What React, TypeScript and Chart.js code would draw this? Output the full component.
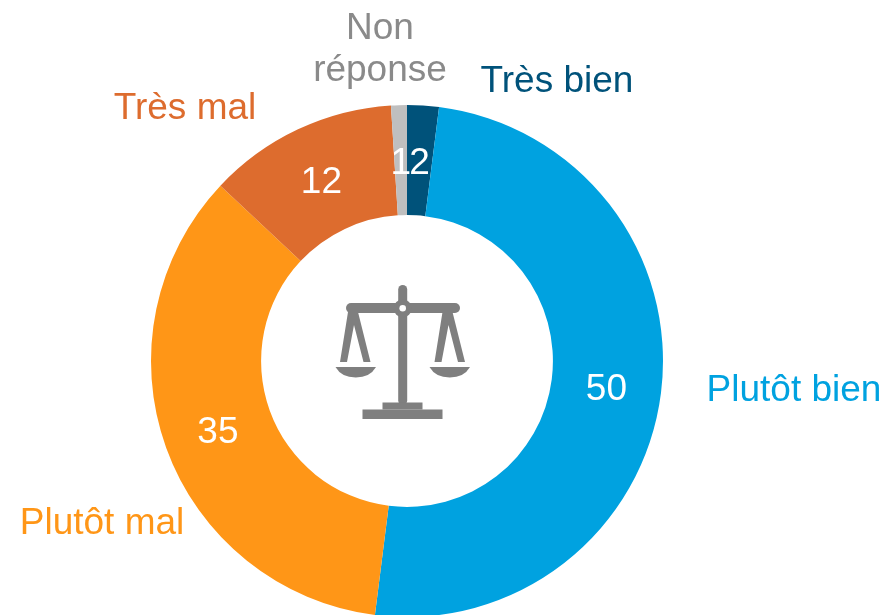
import React, { useEffect, useRef } from "react";
import { Chart, registerables } from "chart.js";

Chart.register(...registerables);

const categories = ["Très bien", "Plutôt bien", "Plutôt mal", "Très mal", "Non réponse"];
const values = [2, 50, 35, 12, 1];
const sliceColors = ["#00527A", "#00A2E0", "#FF9617", "#DD6C2E", "#BFBFBF"];
const labelColors = ["#00527A", "#00A2E0", "#FF9617", "#DD6C2E", "#8A8A8A"];
const labelLines = [["Très bien"], ["Plutôt bien"], ["Plutôt mal"], ["Très mal"], ["Non", "réponse"]];
// centre x and first-line baseline of each outer label
const labelAnchors = [
  [557, 92],
  [794, 401],
  [102, 534],
  [185, 119],
  [380, 39],
];

const FONT = '37px "Liberation Sans", Arial, sans-serif';

const ringLabels = {
  id: "ringLabels",
  afterDatasetsDraw(chart: any) {
    const ctx = chart.ctx;
    const arcs = chart.getDatasetMeta(0).data;
    ctx.save();
    ctx.font = FONT;
    ctx.textAlign = "center";
    ctx.textBaseline = "alphabetic";
    // values, in draw order so they overlap as in the reference
    arcs.forEach((arc: any, i: number) => {
      const p = arc.getCenterPoint();
      ctx.fillStyle = "#FFFFFF";
      ctx.fillText(String(values[i]), p.x, p.y + 14);
    });
    // outer category labels
    labelLines.forEach((lines, i) => {
      ctx.fillStyle = labelColors[i];
      lines.forEach((line, j) => {
        ctx.fillText(line, labelAnchors[i][0], labelAnchors[i][1] + j * 42);
      });
    });
    ctx.restore();
  },
};

const scaleIcon = {
  id: "scaleIcon",
  afterDraw(chart: any) {
    const c = chart.ctx;
    const arc = chart.getDatasetMeta(0).data[0];
    // icon drawn relative to the ring centre
    c.save();
    c.translate(arc.x - 407, arc.y - 361);
    c.fillStyle = "#7F7F7F";
    c.strokeStyle = "#7F7F7F";
    // post
    c.beginPath();
    c.roundRect(398.2, 285, 9, 120, 4.5);
    c.fill();
    // beam
    c.beginPath();
    c.roundRect(346, 303, 114, 10, 5);
    c.fill();
    // hub
    c.beginPath();
    c.arc(402.7, 308.3, 9, 0, Math.PI * 2);
    c.fill();
    // hangers
    const hanger = (x: number) => {
      c.beginPath();
      c.moveTo(x + 8, 312);
      c.lineTo(x, 362);
      c.lineTo(x + 7, 362);
      c.lineTo(x + 14, 325);
      c.lineTo(x + 23.5, 362);
      c.lineTo(x + 30.5, 362);
      c.lineTo(x + 18, 312);
      c.closePath();
      c.fill();
    };
    hanger(340);
    hanger(434.5);
    // pans
    const pan = (x0: number, x1: number) => {
      const mid = (x0 + x1) / 2;
      c.beginPath();
      c.moveTo(x0, 367);
      c.lineTo(x1, 367);
      c.quadraticCurveTo(x1 - 6, 377.5, mid, 377.5);
      c.quadraticCurveTo(x0 + 6, 377.5, x0, 367);
      c.closePath();
      c.fill();
    };
    pan(335.5, 376);
    pan(429.5, 470);
    // base
    c.fillRect(382.5, 402.5, 40, 7);
    c.fillRect(362.5, 409.5, 80, 9.5);
    // hub hole
    c.fillStyle = "#FFFFFF";
    c.beginPath();
    c.arc(402.7, 308.3, 3.3, 0, Math.PI * 2);
    c.fill();
    c.restore();
  },
};

export default function App() {
  const ref = useRef<HTMLCanvasElement>(null);
  useEffect(() => {
    const chart = new Chart(ref.current as HTMLCanvasElement, {
      type: "doughnut",
      data: {
        labels: categories,
        datasets: [{ data: values, backgroundColor: sliceColors, borderWidth: 0 }],
      },
      options: {
        responsive: false,
        animation: false,
        cutout: "57%",
        layout: { padding: { top: 105, left: 0, right: 71, bottom: 0 } },
        plugins: { legend: { display: false }, tooltip: { enabled: false } },
      },
      plugins: [ringLabels, scaleIcon],
    } as any);
    return () => chart.destroy();
  }, []);
  return (
    <div style={{ position: "fixed", left: 0, top: 0, width: 885, height: 615, overflow: "hidden", background: "#fff" }}>
      <canvas ref={ref} width={885} height={617} style={{ display: "block" }} />
    </div>
  );
}
